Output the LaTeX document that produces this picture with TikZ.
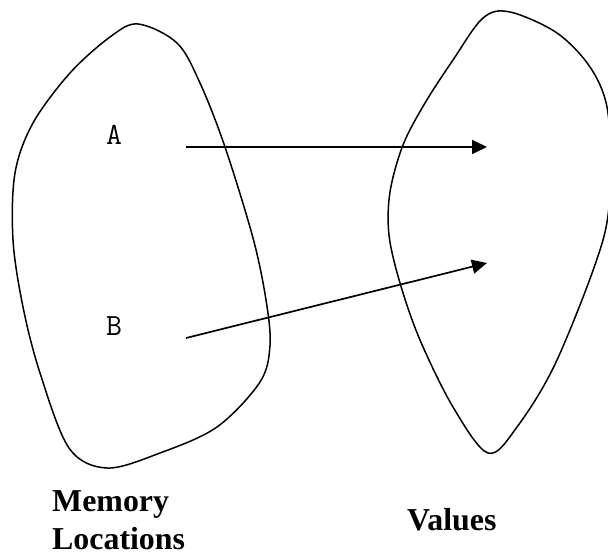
\documentclass[tikz,border=0pt]{standalone}
\usepackage{fontspec}
\setmainfont{Liberation Serif}
\usepackage{tikz}
\usetikzlibrary{positioning,arrows.meta}

\begin{document}
\begin{tikzpicture}[x=1bp, y=-1bp,
  blob/.style={draw, line width=1.5bp, smooth cycle, tension=0.55},
  loc/.style={font=\fontsize{31}{33}\selectfont\ttfamily, inner sep=0pt},
  lbl/.style={font=\fontsize{32}{38}\selectfont\bfseries, inner sep=0pt, align=left},
  arr/.style={-{Triangle[length=15bp, width=14bp]}, line width=1.7bp}]
\useasboundingbox (0,0) rectangle (608,555);
% memory locations
\draw[blob] plot coordinates {(138,24) (177,43) (200,83) (225,147) (253,238) (266,300)
  (270,345) (260,382) (217,427) (160,453) (107,468) (69,448) (40,373) (23,307) (13,240)
  (15,173) (33,123) (70,73) (110,37)};
% values
\draw[blob] plot coordinates {(510,12) (557,33) (590,67) (607,107) (610,170) (603,240)
  (557,360) (517,427) (488,453) (453,407) (420,340) (400,283) (389,235) (390,192)
  (403,145) (425,103) (453,60) (483,18)};
\node[loc] (a) at (114,135) {A};
\node[loc] (b) at (114,326) {B};
\coordinate (a-tail) at (186,147);
\coordinate (a-head) at (487,147);
\coordinate (b-tail) at (186,338);
\coordinate (b-head) at (487,263);
\draw[arr] (a-tail) -- (a-head);
\draw[arr] (b-tail) -- (b-head);
\node[lbl, anchor=south west] (memloc) at (52,550) {Memory\\Locations};
\node[lbl, anchor=base west] (vals) at (407,530) {Values};
\end{tikzpicture}
\end{document}
